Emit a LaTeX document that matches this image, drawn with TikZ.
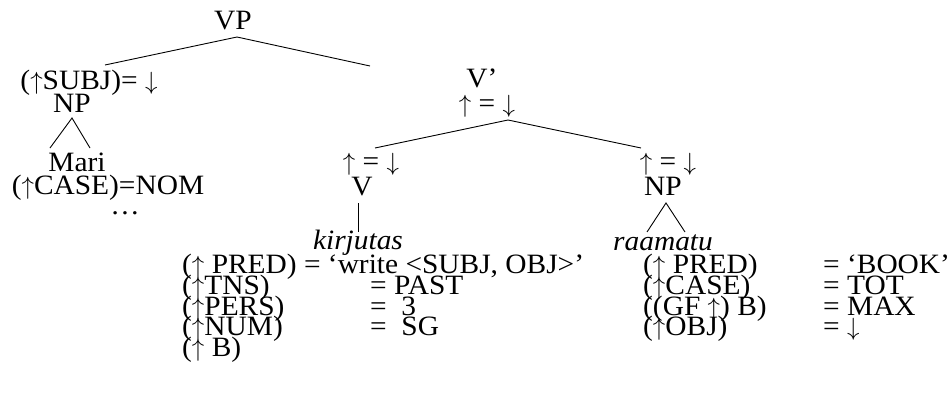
\documentclass[tikz,border=0pt]{standalone}
\usepackage{fontspec}
\setmainfont{Liberation Serif}[FakeStretch=1.05]
\newcommand{\UA}{$\uparrow$}
\newcommand{\DA}{$\downarrow$}
\begin{document}
\begin{tikzpicture}[x=1pt,y=-1pt,
  every node/.style={inner sep=0pt, font=\fontsize{28}{28}\selectfont},
  lbl/.style={anchor=base},
  feat/.style={anchor=base west},
  branch/.style={line width=0.9pt}]
\useasboundingbox (0,0) rectangle (950,396);
% top
\node[lbl] (VP) at (233,30) {VP};
\node[lbl] (subj) at (89,89) {(\UA SUBJ)= \DA};
\node[lbl] (NP1) at (72,112) {NP};
\node[lbl] (mari) at (77,171) {Mari};
\node[lbl] (case1) at (108,194) {(\UA CASE)=NOM};
\node[lbl] (dots) at (125,214) {…};
\node[lbl] (Vbar) at (482,87) {V’};
\node[lbl] (vbareq) at (487,112) {\UA{} = \DA};
\node[lbl] (veq) at (371,170) {\UA{} = \DA};
\node[lbl] (V) at (362,195) {V};
\node[lbl] (npeq) at (668,170) {\UA{} = \DA};
\node[lbl] (NP2) at (663,195) {NP};
\node[lbl] (kir) at (358,249) {\itshape kirjutas};
\node[lbl] (raa) at (663,250) {\itshape raamatu};
% coordinates
\coordinate (l1) at (105,65);
\coordinate (r1) at (370,66);
\coordinate (tri1l) at (50,148);
\coordinate (tri1r) at (90,148);
\coordinate (vbarapex) at (508,120);
\coordinate (l2) at (375,148);
\coordinate (r2) at (641,148);
\coordinate (vtop) at (358,203);
\coordinate (vbot) at (358,232);
\coordinate (np2apex) at (666,203);
\coordinate (tri2l) at (647,232);
\coordinate (tri2r) at (685,232);
\coordinate (vpapex) at (237,37);
\coordinate (np1apex) at (72,118);
% branches
\draw[branch] (l1) -- (vpapex) -- (r1);
\draw[branch] (tri1l) -- (np1apex) -- (tri1r);
\draw[branch] (l2) -- (vbarapex) -- (r2);
\draw[branch] (vtop) -- (vbot);
\draw[branch] (tri2l) -- (np2apex) -- (tri2r);
% left features
\node[feat] (f1) at (182,273) {(\UA{} PRED) = ‘write <SUBJ, OBJ>’};
\node[feat] (f2) at (182,294) {(\UA TNS)};
\node[feat] (f3) at (182,315) {(\UA PERS)};
\node[feat] (f4) at (182,335) {(\UA NUM)};
\node[feat] (f5) at (182,356) {(\UA{} B)};
\node[feat] (g2) at (370,294) {= PAST};
\node[feat] (g3) at (370,315) {=\ \ 3};
\node[feat] (g4) at (370,335) {=\ \ SG};
% right features
\node[feat] (h1) at (643,273) {(\UA{} PRED)};
\node[feat] (h2) at (643,294) {(\UA CASE)};
\node[feat] (h3) at (643,315) {((GF \UA) B)};
\node[feat] (h4) at (643,335) {(\UA OBJ)};
\node[feat] (k1) at (823,273) {= ‘BOOK’};
\node[feat] (k2) at (823,294) {= TOT};
\node[feat] (k3) at (823,315) {= MAX};
\node[feat] (k4) at (823,335) {= \DA};
\end{tikzpicture}
\end{document}
